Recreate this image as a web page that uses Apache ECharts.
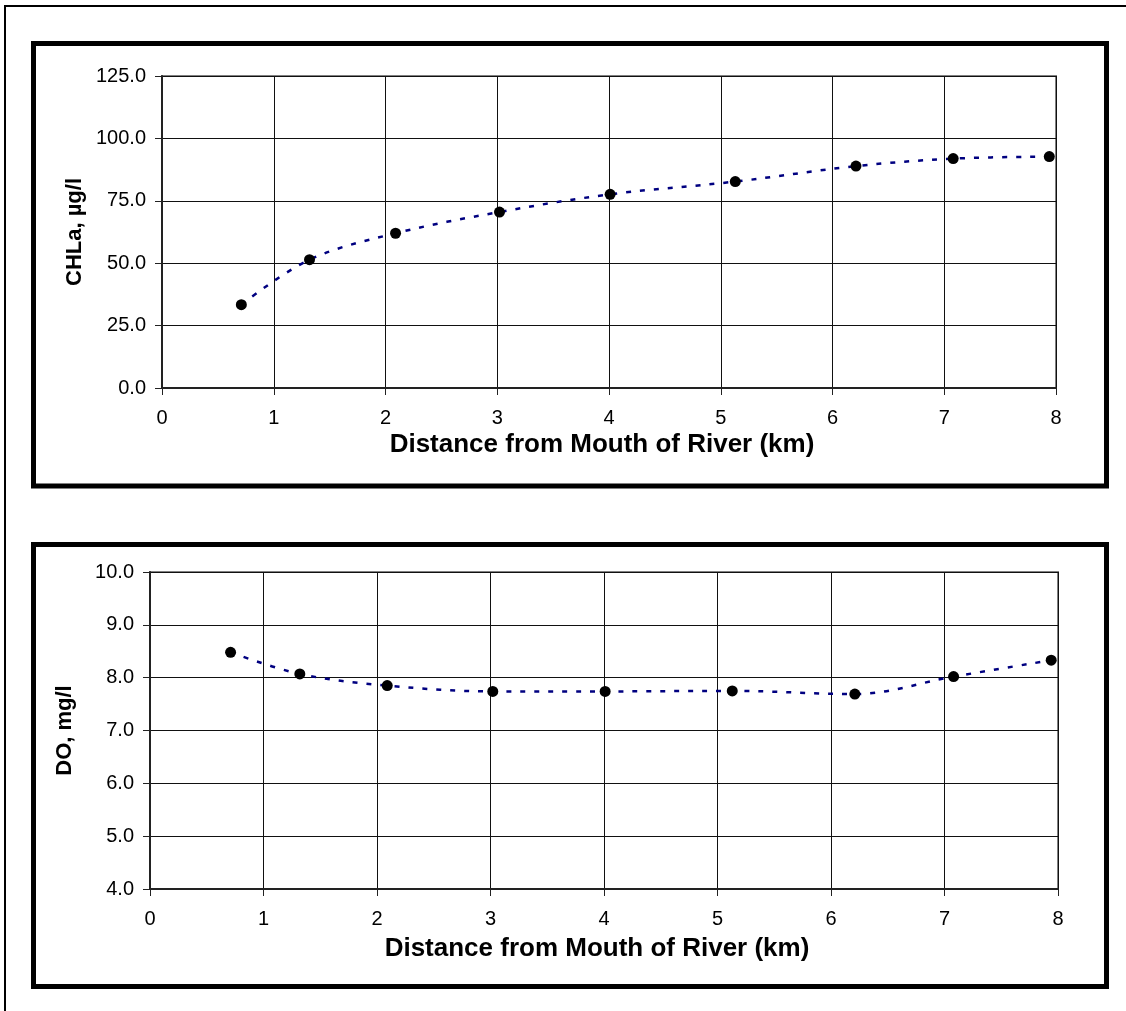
<!DOCTYPE html>
<html>
<head>
<meta charset="utf-8">
<script src="https://cdn.jsdelivr.net/npm/echarts@6/dist/echarts.min.js"></script>
<style>
  html, body { margin: 0; padding: 0; background: #fff; }
  #chart { width: 1126px; height: 1011px; }
</style>
</head>
<body>
<div id="chart"></div>
<script>
// distance from river mouth, shared by both panels
const distKm = [0.71, 1.32, 2.09, 3.02, 4.01, 5.13, 6.21, 7.08, 7.94];
const chla = [33.4, 51.4, 62.0, 70.5, 77.6, 82.7, 88.9, 91.9, 92.7];
const dissolvedO2 = [8.48, 8.07, 7.85, 7.74, 7.74, 7.75, 7.69, 8.02, 8.33];

const xRange = [0, 8, 1];
const chlaRange = [0, 125, 25];
const doRange = [4, 10, 1];

const xTitle = 'Distance from Mouth of River (km)';
const chlaTitle = 'CHLa, µg/l';
const doTitle = 'DO, mg/l';

const FONT = "'Liberation Sans', Arial, sans-serif";

function xAxisOf(gridIndex, gap) {
  return {
    type: 'value',
    gridIndex: gridIndex,
    min: xRange[0], max: xRange[1], interval: xRange[2],
    name: xTitle,
    nameLocation: 'middle',
    nameGap: gap,
    nameMoveOverlap: false,
    nameTextStyle: { fontFamily: FONT, fontSize: 26, fontWeight: 'bold', color: '#000', padding: [0, 14, 0, 0] },
    axisLine: { show: true, lineStyle: { color: '#222', width: 2 } },
    axisTick: { show: true, length: 7, lineStyle: { color: '#222', width: 1 } },
    axisLabel: { fontFamily: FONT, fontSize: 20, color: '#000', margin: 20 },
    splitLine: { show: true, lineStyle: { color: '#111', width: 1 } }
  };
}

function yAxisOf(gridIndex, range, title, gap) {
  return {
    type: 'value',
    gridIndex: gridIndex,
    min: range[0], max: range[1], interval: range[2],
    name: title,
    nameLocation: 'middle',
    nameGap: gap,
    nameRotate: 90,
    nameMoveOverlap: false,
    nameTextStyle: { fontFamily: FONT, fontSize: 22, fontWeight: 'bold', color: '#000' },
    axisLine: { show: true, lineStyle: { color: '#222', width: 2 } },
    axisTick: { show: true, length: 7, lineStyle: { color: '#222', width: 1 } },
    axisLabel: { fontFamily: FONT, fontSize: 20, color: '#000', margin: 16, formatter: v => v.toFixed(1) },
    splitLine: { show: true, lineStyle: { color: '#111', width: 1 } }
  };
}

function seriesOf(idx, values) {
  return {
    type: 'line',
    xAxisIndex: idx,
    yAxisIndex: idx,
    data: distKm.map((d, i) => [d, values[i]]),
    smooth: 0.35,
    symbol: 'circle',
    symbolSize: 11,
    itemStyle: { color: '#000' },
    lineStyle: { color: '#000080', width: 2.5, type: [5, 9] },
    z: 3
  };
}

const chart = echarts.init(document.getElementById('chart'), null, { renderer: 'canvas' });

chart.setOption({
  backgroundColor: '#fff',
  animation: false,
  grid: [
    { left: 162, right: 70, top: 76, height: 312, show: true, borderColor: '#808080', borderWidth: 2 },
    { left: 150, right: 68, top: 572, height: 317, show: true, borderColor: '#808080', borderWidth: 2 }
  ],
  xAxis: [xAxisOf(0, 44), xAxisOf(1, 47)],
  yAxis: [yAxisOf(0, chlaRange, chlaTitle, 76), yAxisOf(1, doRange, doTitle, 74)],
  series: [seriesOf(0, chla), seriesOf(1, dissolvedO2)],
  graphic: [
    { type: 'rect', shape: { x: 5, y: 6, width: 1140, height: 1030 },
      style: { fill: 'none', stroke: '#000', lineWidth: 2 }, silent: true },
    { type: 'rect', shape: { x: 33.5, y: 43.5, width: 1073, height: 442.5 },
      style: { fill: 'none', stroke: '#000', lineWidth: 5 }, silent: true },
    { type: 'rect', shape: { x: 33.5, y: 544.5, width: 1073, height: 442 },
      style: { fill: 'none', stroke: '#000', lineWidth: 5 }, silent: true }
  ]
});
</script>
</body>
</html>
